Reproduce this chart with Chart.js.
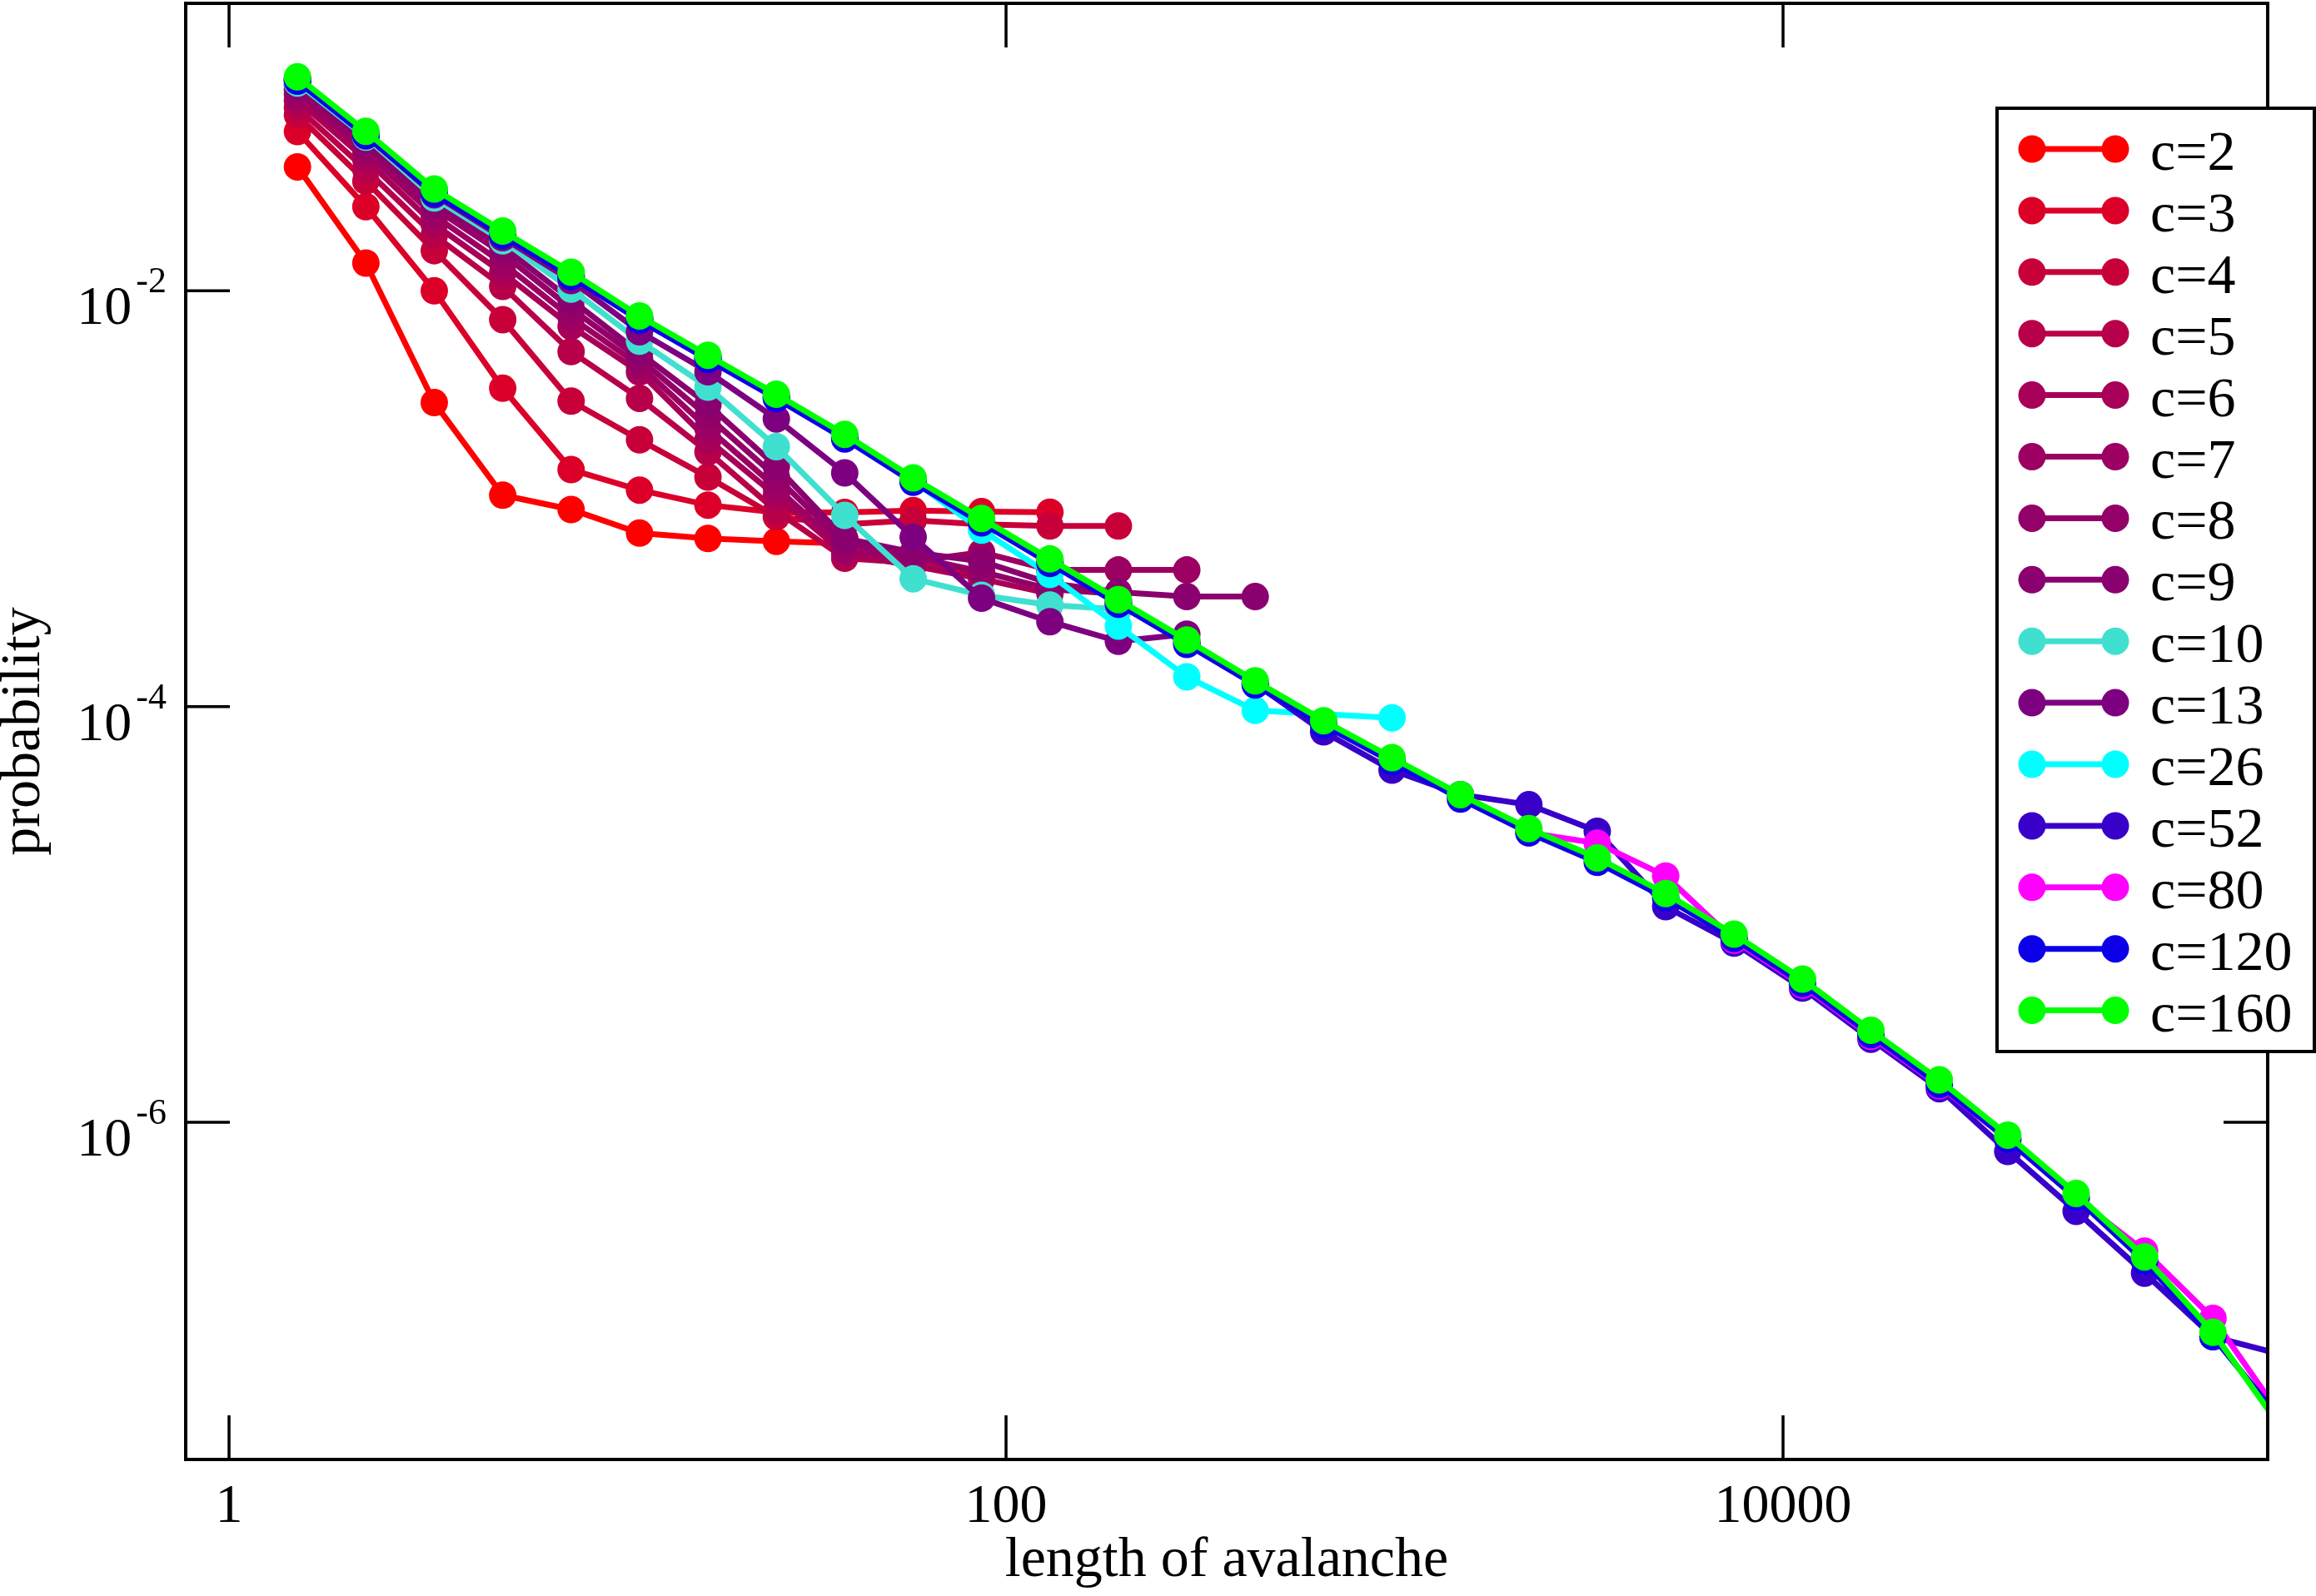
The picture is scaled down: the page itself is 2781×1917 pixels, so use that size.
<!DOCTYPE html>
<html>
<head>
<meta charset="utf-8">
<script src="https://cdn.jsdelivr.net/npm/chart.js@4.4.0/dist/chart.umd.min.js"></script>
<style>
  body { margin: 0; background: #fff; }
  #chart { display: block; }
</style>
</head>
<body>
<canvas id="chart" width="2781" height="1917"></canvas>
<script>
// avalanche length bins (1.5^k)
var lengths = [1.5, 2.25, 3.375, 5.063, 7.594, 11.39, 17.09, 25.63, 38.44, 57.67,
  86.5, 129.7, 194.6, 291.9, 437.9, 656.8, 985.3, 1478, 2217, 3325,
  4988, 7482, 11223, 16834, 25251, 37877, 56815, 85223, 127834, 191751];

var pC2 = [3.95e-2, 1.36e-2, 2.90e-3, 1.04e-3, 8.87e-4, 6.83e-4, 6.44e-4, 6.24e-4, 6.09e-4];
var pC3 = [5.84e-2, 2.54e-2, 1.00e-2, 3.40e-3, 1.38e-3, 1.10e-3, 9.32e-4, 8.59e-4, 8.59e-4, 8.76e-4, 8.66e-4, 8.61e-4];
var pC4 = [7.01e-2, 3.37e-2, 1.56e-2, 7.27e-3, 2.95e-3, 1.92e-3, 1.27e-3, 8.18e-4, 7.53e-4, 7.86e-4, 7.53e-4, 7.39e-4, 7.39e-4];
var pC5 = [7.61e-2, 3.83e-2, 1.85e-2, 1.05e-2, 5.10e-3, 3.04e-3, 1.68e-3, 8.73e-4, 5.17e-4, 4.92e-4, 4.25e-4];
var pC6 = [8.26e-2, 4.29e-2, 2.09e-2, 1.22e-2, 6.75e-3, 4.07e-3, 1.92e-3, 1.03e-3, 5.43e-4, 4.76e-4, 4.11e-4, 3.49e-4];
var pC7 = [8.82e-2, 4.66e-2, 2.30e-2, 1.36e-2, 7.45e-3, 4.38e-3, 2.18e-3, 1.13e-3, 5.70e-4, 5.00e-4, 5.52e-4, 4.54e-4, 4.54e-4, 4.54e-4];
var pC8 = [9.26e-2, 4.97e-2, 2.50e-2, 1.51e-2, 8.22e-3, 4.71e-3, 2.49e-3, 1.27e-3, 6.09e-4, 5.26e-4, 4.46e-4, 3.67e-4, 3.49e-4];
var pC9 = [9.72e-2, 5.22e-2, 2.67e-2, 1.63e-2, 9.07e-3, 5.03e-3, 2.84e-3, 1.43e-3, 6.44e-4, 5.52e-4, 5.00e-4, 3.92e-4, 3.55e-4, 3.38e-4, 3.38e-4];
var pC10 = [1.00e-1, 5.49e-2, 2.80e-2, 1.74e-2, 1.02e-2, 5.73e-3, 3.44e-3, 1.78e-3, 8.31e-4, 4.12e-4, 3.43e-4, 3.08e-4, 2.94e-4];
var pC13 = [1.04e-1, 5.58e-2, 2.90e-2, 1.80e-2, 1.12e-2, 6.36e-3, 4.08e-3, 2.42e-3, 1.33e-3, 6.53e-4, 3.32e-4, 2.56e-4, 2.06e-4, 2.23e-4];
var pC26 = [1.04e-1, 5.67e-2, 2.99e-2, 1.88e-2, 1.19e-2, 7.33e-3, 4.74e-3, 3.08e-3, 1.97e-3, 1.22e-3, 7.06e-4, 4.32e-4, 2.44e-4, 1.39e-4, 9.58e-5, null, 8.83e-5];
var pC52 = [1.04e-1, 5.67e-2, 2.99e-2, 1.88e-2, 1.19e-2, 7.33e-3, 4.74e-3, 3.08e-3, 1.97e-3, 1.22e-3, 7.78e-4, 4.96e-4, 3.16e-4, 2.02e-4, 1.29e-4,
  7.56e-5, 4.94e-5, 3.77e-5, 3.37e-5, 2.51e-5, 1.09e-5, 7.28e-6, 4.42e-6, 2.51e-6, 1.45e-6, 7.24e-7, 3.73e-7, 1.88e-7, 9.29e-8, 7.63e-8];
var pC80 = [1.05e-1, 5.77e-2, 3.04e-2, 1.91e-2, 1.21e-2, 7.45e-3, 4.82e-3, 3.13e-3, 2.01e-3, 1.24e-3, 7.91e-4, 5.05e-4, 3.22e-4, 2.06e-4, 1.31e-4,
  8.41e-5, 5.59e-5, 3.71e-5, 2.47e-5, 2.20e-5, 1.53e-5, 7.52e-6, 4.57e-6, 2.59e-6, 1.50e-6, 8.25e-7, 4.32e-7, 2.40e-7, 1.14e-7, 3.84e-8];
var pC120 = [1.02e-1, 5.58e-2, 2.94e-2, 1.85e-2, 1.17e-2, 7.21e-3, 4.67e-3, 3.03e-3, 1.94e-3, 1.20e-3, 7.65e-4, 4.88e-4, 3.11e-4, 1.99e-4, 1.27e-4,
  8.14e-5, 5.41e-5, 3.59e-5, 2.47e-5, 1.78e-5, 1.20e-5, 7.65e-6, 4.65e-6, 2.64e-6, 1.52e-6, 8.25e-7, 4.32e-7, 2.14e-7, 9.29e-8, 3.66e-8];
var pC160 = [1.07e-1, 5.86e-2, 3.09e-2, 1.94e-2, 1.23e-2, 7.57e-3, 4.90e-3, 3.18e-3, 2.04e-3, 1.26e-3, 8.04e-4, 5.13e-4, 3.27e-4, 2.09e-4, 1.33e-4,
  8.55e-5, 5.68e-5, 3.77e-5, 2.59e-5, 1.87e-5, 1.26e-5, 8.03e-6, 4.88e-6, 2.77e-6, 1.60e-6, 8.67e-7, 4.54e-7, 2.25e-7, 9.76e-8, 3.37e-8];

var seriesNames = ['c=2', 'c=3', 'c=4', 'c=5', 'c=6', 'c=7', 'c=8', 'c=9', 'c=10', 'c=13', 'c=26', 'c=52', 'c=80', 'c=120', 'c=160'];
var seriesData = [pC2, pC3, pC4, pC5, pC6, pC7, pC8, pC9, pC10, pC13, pC26, pC52, pC80, pC120, pC160];
var seriesColors = ['#ff0000', '#dc0028', '#c8003a', '#b8004a', '#a80058', '#9c0062', '#920068', '#8a006e',
  '#40e0d0', '#7d0080', '#00ffff', '#3800c8', '#ff00ff', '#0c00e8', '#00ff00'];

var xTicks = [1, 100, 10000];
var xTickLabels = ['1', '100', '10000'];
var yTicks = [1e-2, 1e-4, 1e-6];
var yTickExps = ['-2', '-4', '-6'];

var FONT = '"Liberation Serif", "Times New Roman", serif';

var datasets = seriesData.map(function (vals, i) {
  return {
    label: seriesNames[i],
    data: vals.map(function (v, k) { return { x: lengths[k], y: v }; }),
    borderColor: seriesColors[i],
    backgroundColor: seriesColors[i],
    pointBackgroundColor: seriesColors[i],
    pointBorderWidth: 0,
    pointRadius: 16.5,
    borderWidth: 7,
    spanGaps: true,
    clip: 0,
    order: seriesData.length - i
  };
});

// frame, inward ticks, labels, titles
var framePlugin = {
  id: 'frame',
  afterDatasetsDraw: function (chart) {
    var ctx = chart.ctx, a = chart.chartArea;
    var xs = chart.scales.x, ys = chart.scales.y;
    ctx.save();
    ctx.strokeStyle = '#000';
    ctx.lineWidth = 3.5;
    ctx.beginPath();
    xTicks.forEach(function (v) {
      var px = xs.getPixelForValue(v);
      ctx.moveTo(px, a.bottom); ctx.lineTo(px, a.bottom - 53);
      ctx.moveTo(px, a.top); ctx.lineTo(px, a.top + 53);
    });
    yTicks.forEach(function (v) {
      var py = ys.getPixelForValue(v);
      ctx.moveTo(a.left, py); ctx.lineTo(a.left + 53, py);
      ctx.moveTo(a.right, py); ctx.lineTo(a.right - 53, py);
    });
    ctx.stroke();
    ctx.lineWidth = 4;
    ctx.strokeRect(a.left, a.top, a.right - a.left, a.bottom - a.top);

    ctx.fillStyle = '#000';
    ctx.textBaseline = 'alphabetic';
    ctx.font = '66px ' + FONT;
    ctx.textAlign = 'center';
    xTicks.forEach(function (v, i) {
      ctx.fillText(xTickLabels[i], xs.getPixelForValue(v), 1828);
    });
    yTicks.forEach(function (v, i) {
      var py = ys.getPixelForValue(v);
      ctx.textAlign = 'right';
      ctx.font = '44px ' + FONT;
      var supW = ctx.measureText(yTickExps[i]).width;
      ctx.fillText(yTickExps[i], 200, py + 2);
      ctx.font = '66px ' + FONT;
      ctx.fillText('10', 200 - supW - 5, py + 40);
    });

    ctx.font = '68px ' + FONT;
    ctx.textAlign = 'center';
    ctx.fillText('length of avalanche', (a.left + a.right) / 2, 1893);
    ctx.translate(47, (a.top + a.bottom) / 2);
    ctx.rotate(-Math.PI / 2);
    ctx.fillText('probability', 0, 0);
    ctx.restore();
  },
  afterDraw: function (chart) {
    // legend box inside the plot, top right
    var ctx = chart.ctx;
    ctx.save();
    ctx.fillStyle = '#fff';
    ctx.fillRect(2398, 130, 381, 1133);
    ctx.strokeStyle = '#000';
    ctx.lineWidth = 4;
    ctx.strokeRect(2398, 130, 381, 1133);
    ctx.font = '68px ' + FONT;
    ctx.textAlign = 'left';
    ctx.textBaseline = 'alphabetic';
    seriesNames.forEach(function (name, i) {
      var y = 179 + i * 73.9;
      ctx.strokeStyle = seriesColors[i];
      ctx.fillStyle = seriesColors[i];
      ctx.lineWidth = 7;
      ctx.beginPath();
      ctx.moveTo(2440, y); ctx.lineTo(2540, y);
      ctx.stroke();
      [2440, 2540].forEach(function (cx) {
        ctx.beginPath();
        ctx.arc(cx, y, 16.5, 0, Math.PI * 2);
        ctx.fill();
      });
      ctx.fillStyle = '#000';
      ctx.fillText(name, 2582, y + 25);
    });
    ctx.restore();
  }
};

new Chart(document.getElementById('chart').getContext('2d'), {
  type: 'line',
  data: { datasets: datasets },
  options: {
    responsive: false,
    devicePixelRatio: 1,
    animation: false,
    layout: { autoPadding: false, padding: { left: 223, right: 58, top: 4, bottom: 164 } },
    plugins: { legend: { display: false }, tooltip: { enabled: false } },
    scales: {
      x: { type: 'logarithmic', min: 0.7735, max: 176800, display: false },
      y: { type: 'logarithmic', min: 2.386e-8, max: 0.2417, display: false }
    }
  },
  plugins: [framePlugin]
});
</script>
</body>
</html>
